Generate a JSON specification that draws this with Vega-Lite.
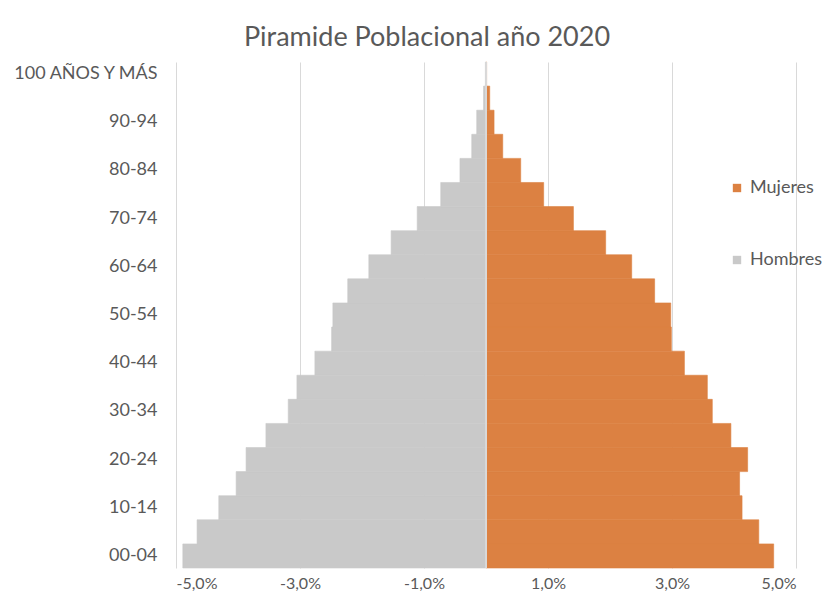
{
  "$schema": "https://vega.github.io/schema/vega-lite/v6.json",
  "autosize": "none",
  "width": 620,
  "height": 506,
  "padding": {"left": 176, "top": 62, "right": 31, "bottom": 25},
  "background": "white",
  "title": {
    "text": "Piramide Poblacional año 2020",
    "fontSize": 27,
    "font": "Lato",
    "fontWeight": "normal",
    "color": "#595959",
    "anchor": "middle",
    "dx": -59,
    "offset": 10
  },
  "data": {
    "values": [
      {"age": "00-04", "sex": "Hombres", "value": -0.0489},
      {"age": "05-09", "sex": "Hombres", "value": -0.0466},
      {"age": "10-14", "sex": "Hombres", "value": -0.0431},
      {"age": "15-19", "sex": "Hombres", "value": -0.0403},
      {"age": "20-24", "sex": "Hombres", "value": -0.0387},
      {"age": "25-29", "sex": "Hombres", "value": -0.0355},
      {"age": "30-34", "sex": "Hombres", "value": -0.0319},
      {"age": "35-39", "sex": "Hombres", "value": -0.0305},
      {"age": "40-44", "sex": "Hombres", "value": -0.0276},
      {"age": "45-49", "sex": "Hombres", "value": -0.0249},
      {"age": "50-54", "sex": "Hombres", "value": -0.0247},
      {"age": "55-59", "sex": "Hombres", "value": -0.0223},
      {"age": "60-64", "sex": "Hombres", "value": -0.0189},
      {"age": "65-69", "sex": "Hombres", "value": -0.0153},
      {"age": "70-74", "sex": "Hombres", "value": -0.0111},
      {"age": "75-79", "sex": "Hombres", "value": -0.0073},
      {"age": "80-84", "sex": "Hombres", "value": -0.0042},
      {"age": "85-89", "sex": "Hombres", "value": -0.0023},
      {"age": "90-94", "sex": "Hombres", "value": -0.0015},
      {"age": "95-99", "sex": "Hombres", "value": -0.0004},
      {"age": "100 AÑOS Y MÁS", "sex": "Hombres", "value": -0.0001},
      {"age": "00-04", "sex": "Mujeres", "value": 0.0464},
      {"age": "05-09", "sex": "Mujeres", "value": 0.0440},
      {"age": "10-14", "sex": "Mujeres", "value": 0.0413},
      {"age": "15-19", "sex": "Mujeres", "value": 0.0409},
      {"age": "20-24", "sex": "Mujeres", "value": 0.0422},
      {"age": "25-29", "sex": "Mujeres", "value": 0.0395},
      {"age": "30-34", "sex": "Mujeres", "value": 0.0365},
      {"age": "35-39", "sex": "Mujeres", "value": 0.0357},
      {"age": "40-44", "sex": "Mujeres", "value": 0.0320},
      {"age": "45-49", "sex": "Mujeres", "value": 0.0299},
      {"age": "50-54", "sex": "Mujeres", "value": 0.0298},
      {"age": "55-59", "sex": "Mujeres", "value": 0.0272},
      {"age": "60-64", "sex": "Mujeres", "value": 0.0235},
      {"age": "65-69", "sex": "Mujeres", "value": 0.0193},
      {"age": "70-74", "sex": "Mujeres", "value": 0.0141},
      {"age": "75-79", "sex": "Mujeres", "value": 0.0093},
      {"age": "80-84", "sex": "Mujeres", "value": 0.0056},
      {"age": "85-89", "sex": "Mujeres", "value": 0.0027},
      {"age": "90-94", "sex": "Mujeres", "value": 0.0013},
      {"age": "95-99", "sex": "Mujeres", "value": 0.0006},
      {"age": "100 AÑOS Y MÁS", "sex": "Mujeres", "value": 0.0001}
    ]
  },
  "layer": [
    {
      "mark": {"type": "bar", "strokeWidth": 0.6},
      "encoding": {
        "y": {
          "field": "age",
          "type": "nominal",
          "scale": {
            "domain": ["100 AÑOS Y MÁS", "95-99", "90-94", "85-89", "80-84", "75-79", "70-74", "65-69", "60-64", "55-59", "50-54", "45-49", "40-44", "35-39", "30-34", "25-29", "20-24", "15-19", "10-14", "05-09", "00-04"],
            "paddingInner": 0,
            "paddingOuter": 0
          },
          "axis": {
            "title": null,
            "values": ["100 AÑOS Y MÁS", "90-94", "80-84", "70-74", "60-64", "50-54", "40-44", "30-34", "20-24", "10-14", "00-04"],
            "ticks": false,
            "domain": false,
            "labelPadding": 19,
            "labelFont": "Lato",
            "labelFontSize": 18,
            "labelColor": "#595959"
          }
        },
        "x": {
          "field": "value",
          "type": "quantitative",
          "stack": null,
          "scale": {"domain": [-0.05, 0.05], "nice": false},
          "axis": {
            "title": null,
            "values": [-0.05, -0.03, -0.01, 0.01, 0.03, 0.05],
            "labelExpr": "(datum.value < 0 ? '-' : '') + replace(format(abs(datum.value), '.1%'), '.', ',')",
            "ticks": false,
            "domain": false,
            "grid": true,
            "gridColor": "#d9d9d9",
            "gridWidth": 1,
            "labelPadding": 7,
            "labelFont": "Lato",
            "labelFontSize": 16,
            "labelColor": "#595959"
          }
        },
        "color": {
          "field": "sex",
          "type": "nominal",
          "scale": {"domain": ["Mujeres", "Hombres"], "range": ["#DC8142", "#C9C9C9"]},
          "legend": {
            "title": null,
            "orient": "none",
            "legendX": 552,
            "legendY": 117,
            "symbolType": "square",
            "symbolSize": 70,
            "symbolStrokeWidth": 0,
            "rowPadding": 54,
            "labelOffset": 4,
            "labelFont": "Lato",
            "labelFontSize": 18,
            "labelColor": "#595959"
          }
        },
        "stroke": {
          "field": "sex",
          "type": "nominal",
          "scale": {"domain": ["Mujeres", "Hombres"], "range": ["#DC8142", "#C9C9C9"]},
          "legend": null
        }
      }
    },
    {
      "mark": {"type": "rule", "color": "#d9d9d9", "strokeWidth": 1},
      "encoding": {"x": {"datum": 0, "type": "quantitative"}}
    }
  ],
  "config": {"view": {"stroke": null}}
}
